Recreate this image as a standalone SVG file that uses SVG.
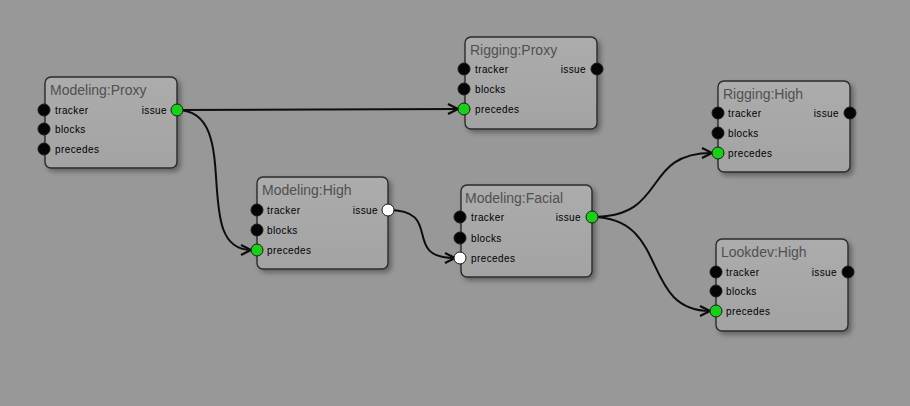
<svg xmlns="http://www.w3.org/2000/svg" width="910" height="406" viewBox="0 0 910 406">
<style>
.box{fill:url(#bg);stroke:#2b2b2b;stroke-width:1.4;filter:url(#sh)}
.title{font-family:"Liberation Sans",Arial,sans-serif;font-size:14px;fill:#505050}
.lbl{font-family:"Liberation Sans",Arial,sans-serif;font-size:10px;fill:#000;letter-spacing:0.4px}
.r{text-anchor:end}
.p{stroke:#1a1a1a;stroke-width:1}
.k{fill:#050505}
.g{fill:#17d017}
.w{fill:#fff}
.c{fill:none;stroke:#0d0d0d;stroke-width:2;marker-end:url(#arr)}
</style>
<defs>
<linearGradient id="bg" x1="0" y1="0" x2="0" y2="1">
<stop offset="0" stop-color="#acacac"/>
<stop offset="1" stop-color="#a3a3a3"/>
</linearGradient>
<filter id="sh" x="-10%" y="-10%" width="130%" height="130%">
<feDropShadow dx="3" dy="3" stdDeviation="2.5" flood-color="#000" flood-opacity="0.35"/>
</filter>
<marker id="arr" viewBox="-12 -7 14 14" refX="0" refY="0" markerWidth="14" markerHeight="14" markerUnits="userSpaceOnUse" orient="auto">
<path d="M-10,-5 L0,0 L-10,5" fill="none" stroke="#0d0d0d" stroke-width="2.2"/>
</marker>
</defs>
<rect width="910" height="406" fill="#989898"/>

<g id="connectors">
<path class="c" d="M177,110 L458,109"/>
<path class="c" d="M177,110 C245,110 189,250 251,250"/>
<path class="c" d="M388,210 C445,210 400,258 455,258"/>
<path class="c" d="M592,217 C670,217 640,153 712,153"/>
<path class="c" d="M592,217 C670,217 640,311 710,311"/>
</g>

<g id="modeling-proxy">
<rect class="box" x="45" y="77" width="132" height="91" rx="6"/>
<text class="title" x="50" y="95">Modeling:Proxy</text>
<text class="lbl" x="55" y="113.5">tracker</text>
<text class="lbl" x="55" y="132.5">blocks</text>
<text class="lbl" x="55" y="152.5">precedes</text>
<text class="lbl r" x="167" y="113.5">issue</text>
<circle class="p k" cx="44" cy="110" r="6"/>
<circle class="p k" cx="44" cy="129" r="6"/>
<circle class="p k" cx="44" cy="149" r="6"/>
<circle class="p g" cx="177" cy="110" r="6"/>
</g>

<g id="rigging-proxy">
<rect class="box" x="465" y="37" width="132" height="92" rx="6"/>
<text class="title" x="470" y="55">Rigging:Proxy</text>
<text class="lbl" x="475" y="72.5">tracker</text>
<text class="lbl" x="475" y="92.5">blocks</text>
<text class="lbl" x="475" y="112.5">precedes</text>
<text class="lbl r" x="586" y="72.5">issue</text>
<circle class="p k" cx="464" cy="69" r="6"/>
<circle class="p k" cx="464" cy="89" r="6"/>
<circle class="p g" cx="464" cy="109" r="6"/>
<circle class="p k" cx="597" cy="69" r="6"/>
</g>

<g id="modeling-high">
<rect class="box" x="257" y="177" width="131" height="92" rx="6"/>
<text class="title" x="262" y="195">Modeling:High</text>
<text class="lbl" x="267" y="213.5">tracker</text>
<text class="lbl" x="267" y="233.5">blocks</text>
<text class="lbl" x="267" y="253.5">precedes</text>
<text class="lbl r" x="378" y="213.5">issue</text>
<circle class="p k" cx="257" cy="210" r="6"/>
<circle class="p k" cx="257" cy="230" r="6"/>
<circle class="p g" cx="257" cy="250" r="6"/>
<circle class="p w" cx="388" cy="210" r="6"/>
</g>

<g id="modeling-facial">
<rect class="box" x="461" y="185" width="131" height="92" rx="6"/>
<text class="title" x="465" y="203">Modeling:Facial</text>
<text class="lbl" x="471" y="221">tracker</text>
<text class="lbl" x="471" y="241.5">blocks</text>
<text class="lbl" x="471" y="261.5">precedes</text>
<text class="lbl r" x="581" y="221">issue</text>
<circle class="p k" cx="460" cy="217" r="6"/>
<circle class="p k" cx="460" cy="238" r="6"/>
<circle class="p w" cx="460" cy="258" r="6"/>
<circle class="p g" cx="592" cy="217" r="6"/>
</g>

<g id="rigging-high">
<rect class="box" x="718" y="81" width="132" height="91" rx="6"/>
<text class="title" x="723" y="99">Rigging:High</text>
<text class="lbl" x="728" y="116.5">tracker</text>
<text class="lbl" x="728" y="136.5">blocks</text>
<text class="lbl" x="728" y="156.5">precedes</text>
<text class="lbl r" x="839" y="116.5">issue</text>
<circle class="p k" cx="718" cy="113" r="6"/>
<circle class="p k" cx="718" cy="133" r="6"/>
<circle class="p g" cx="718" cy="153" r="6"/>
<circle class="p k" cx="850" cy="113" r="6"/>
</g>

<g id="lookdev-high">
<rect class="box" x="716" y="239" width="132" height="92" rx="6"/>
<text class="title" x="721" y="257">Lookdev:High</text>
<text class="lbl" x="726" y="275.5">tracker</text>
<text class="lbl" x="726" y="294.5">blocks</text>
<text class="lbl" x="726" y="314.5">precedes</text>
<text class="lbl r" x="837" y="275.5">issue</text>
<circle class="p k" cx="716" cy="272" r="6"/>
<circle class="p k" cx="716" cy="291" r="6"/>
<circle class="p g" cx="716" cy="311" r="6"/>
<circle class="p k" cx="848" cy="272" r="6"/>
</g>
</svg>
